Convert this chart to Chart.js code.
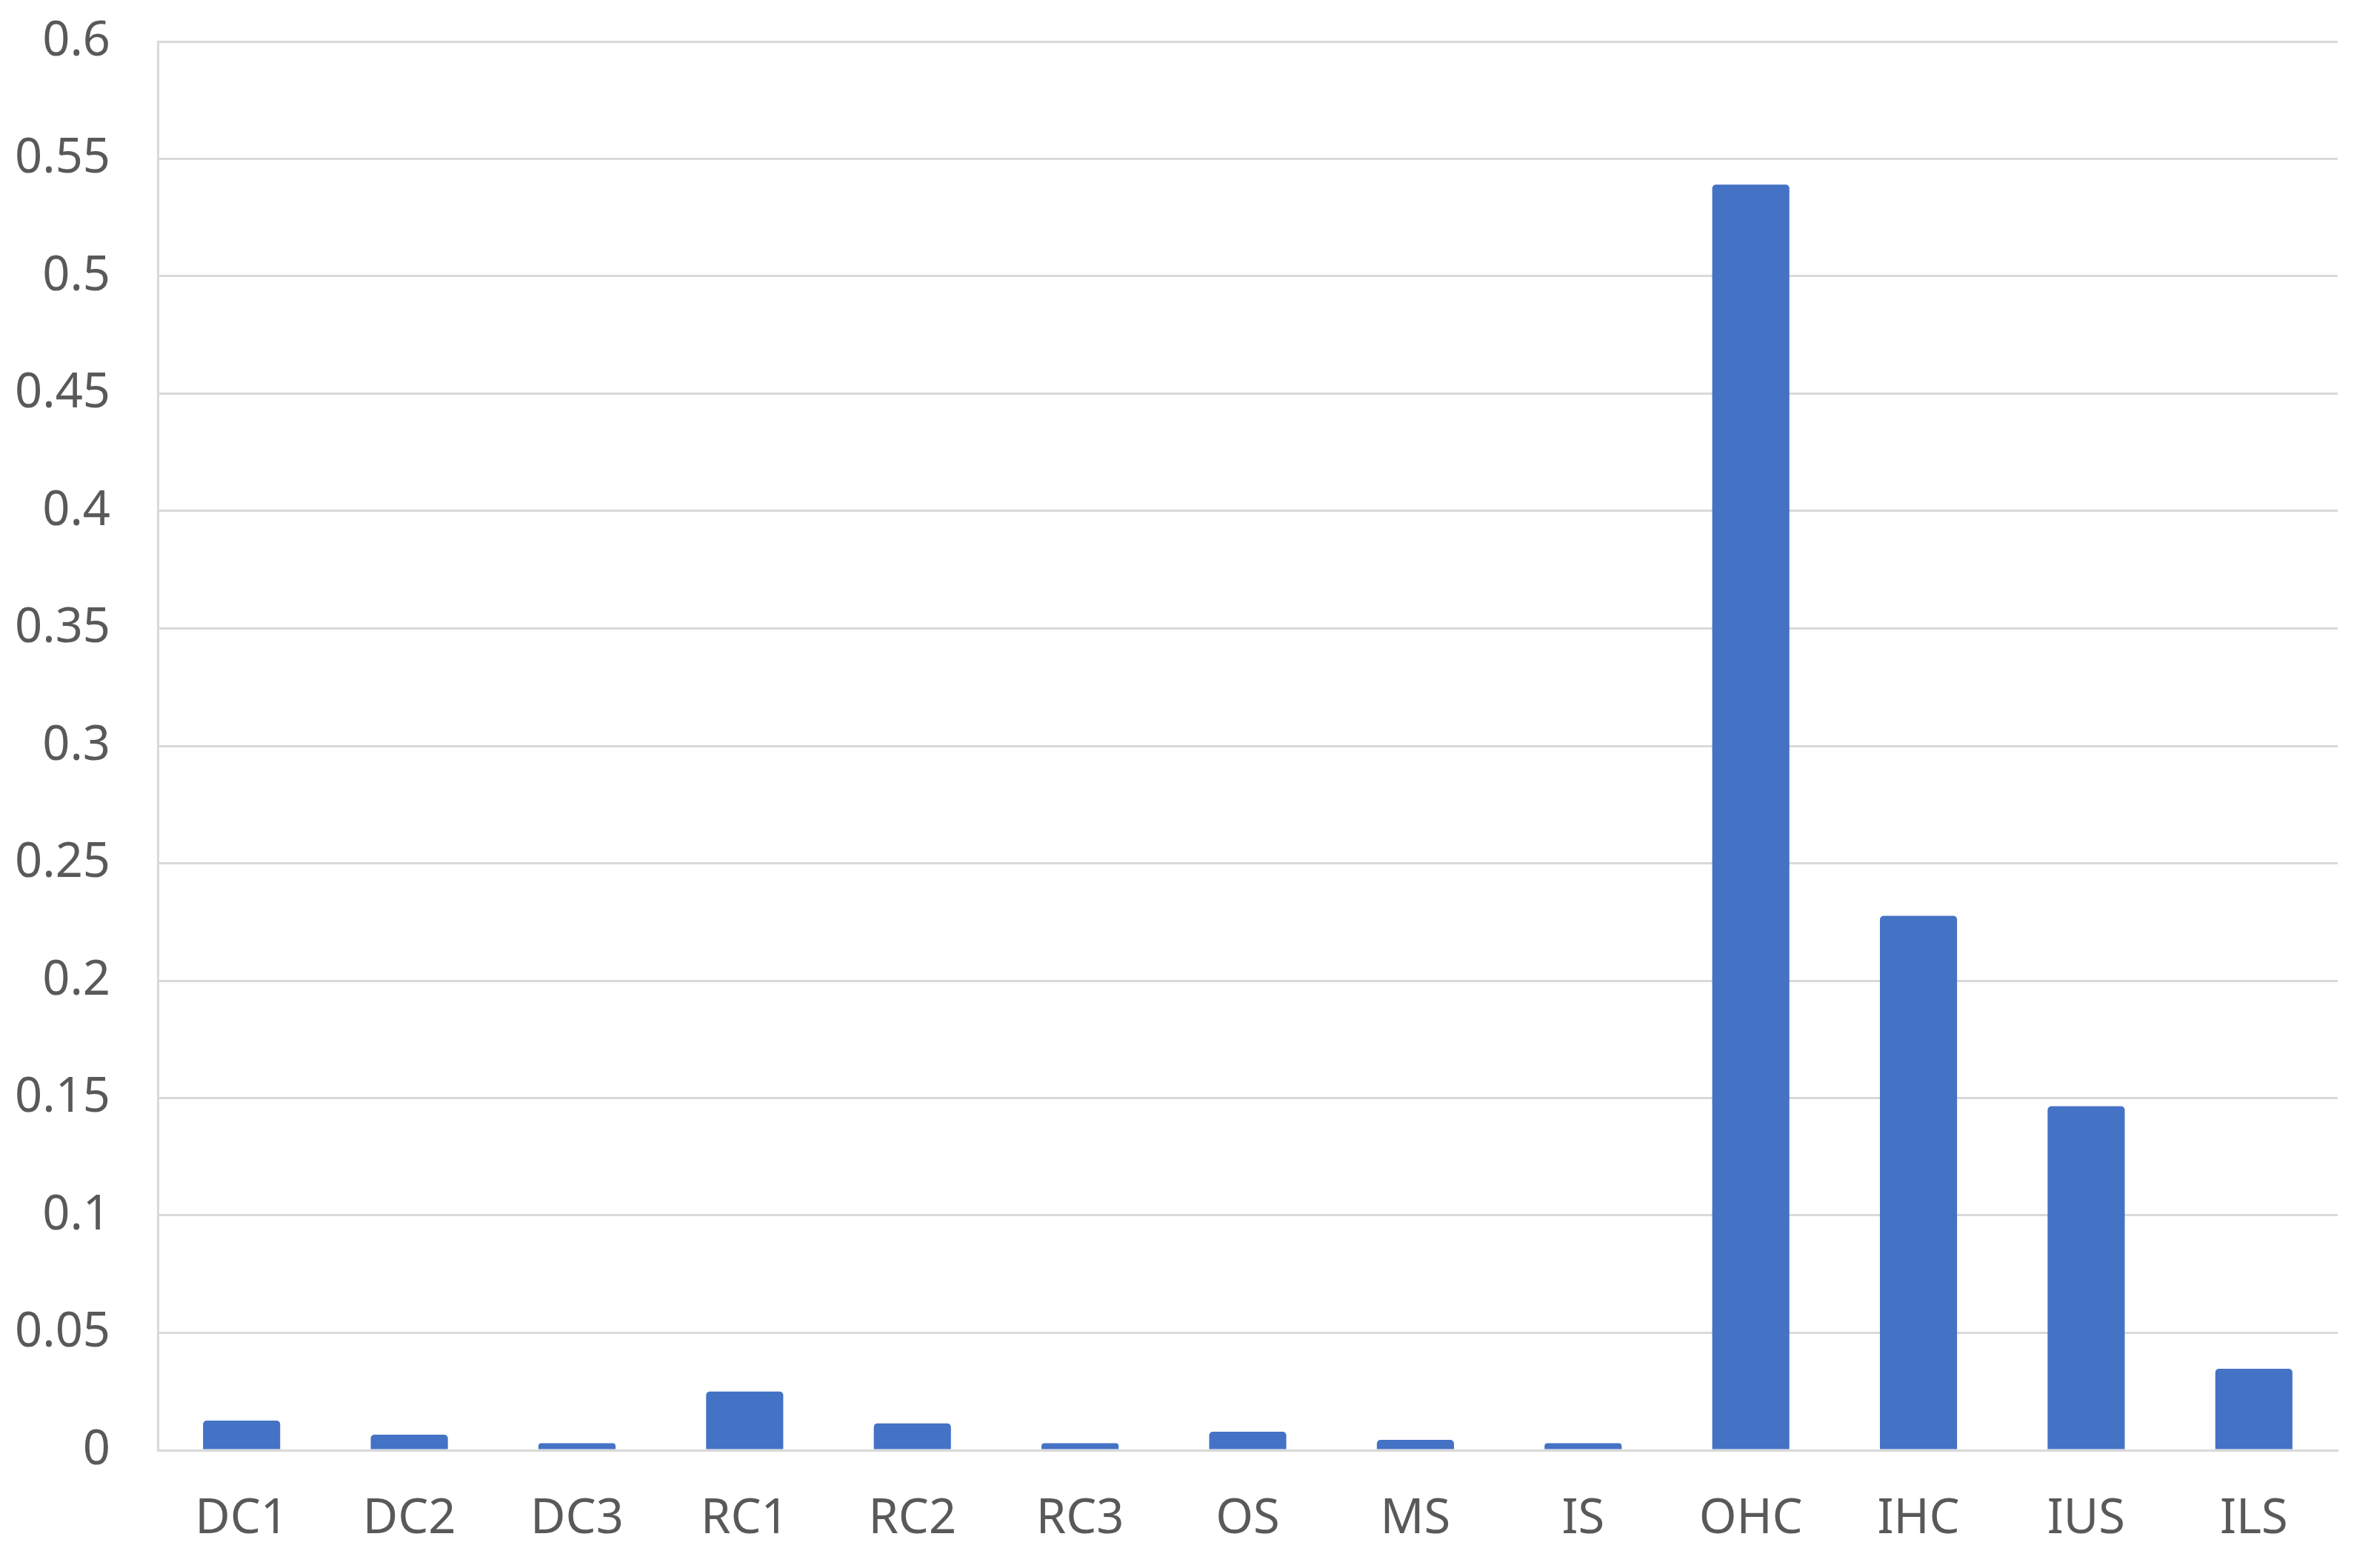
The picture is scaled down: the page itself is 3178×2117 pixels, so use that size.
<!DOCTYPE html>
<html lang="en">
<head>
    <meta charset="UTF-8">
    <title>Bar chart</title>
    <script src="https://cdn.jsdelivr.net/npm/chart.js"></script>
    <style>
        html, body { margin: 0; padding: 0; background: #ffffff; }
        canvas { display: block; }
    </style>
</head>
<body>
    <canvas id="barChart" width="3178" height="2117"></canvas>

    <script>
        // chart data
        const categories = ['DC1', 'DC2', 'DC3', 'RC1', 'RC2', 'RC3', 'OS', 'MS', 'IS', 'OHC', 'IHC', 'IUS', 'ILS'];
        const values = [0.0126, 0.0066, 0.003, 0.025, 0.0114, 0.003, 0.0079, 0.0044, 0.003, 0.539, 0.2276, 0.1465, 0.0347];
        const yTicks = [0, 0.05, 0.1, 0.15, 0.2, 0.25, 0.3, 0.35, 0.4, 0.45, 0.5, 0.55, 0.6];

        const gridGray = '#d9d9d9';
        const textGray = '#595959';

        const ctx = document.getElementById('barChart').getContext('2d');
        new Chart(ctx, {
            type: 'bar',
            data: {
                labels: categories,
                datasets: [{
                    data: values,
                    backgroundColor: '#4472c4',
                    borderRadius: 5,
                    borderSkipped: 'bottom',
                    barPercentage: 0.46,
                    categoryPercentage: 1.0
                }]
            },
            options: {
                responsive: false,
                animation: false,
                layout: {
                    padding: { left: 0, right: 22, top: 56, bottom: 0 }
                },
                plugins: {
                    legend: { display: false },
                    tooltip: { enabled: false }
                },
                scales: {
                    x: {
                        afterFit: axis => {
                            axis.height = 159;
                            axis.paddingLeft = 0;
                            axis.paddingRight = 0;
                        },
                        grid: { display: false, drawTicks: false },
                        border: { display: true, color: gridGray, width: 3 },
                        ticks: {
                            color: textGray,
                            padding: 54,
                            font: { family: 'Noto Sans', size: 65 }
                        }
                    },
                    y: {
                        min: 0,
                        max: 0.6,
                        afterBuildTicks: axis => {
                            axis.ticks = yTicks.map(v => ({ value: v }));
                        },
                        afterFit: axis => {
                            axis.width = 213;
                            axis.paddingTop = 0;
                            axis.paddingBottom = 0;
                        },
                        grid: { color: gridGray, lineWidth: 3, drawTicks: false },
                        border: { display: true, color: gridGray, width: 3 },
                        ticks: {
                            color: textGray,
                            padding: 64,
                            font: { family: 'Noto Sans', size: 65 },
                            callback: v => String(v)
                        }
                    }
                }
            }
        });
    </script>
</body>
</html>
